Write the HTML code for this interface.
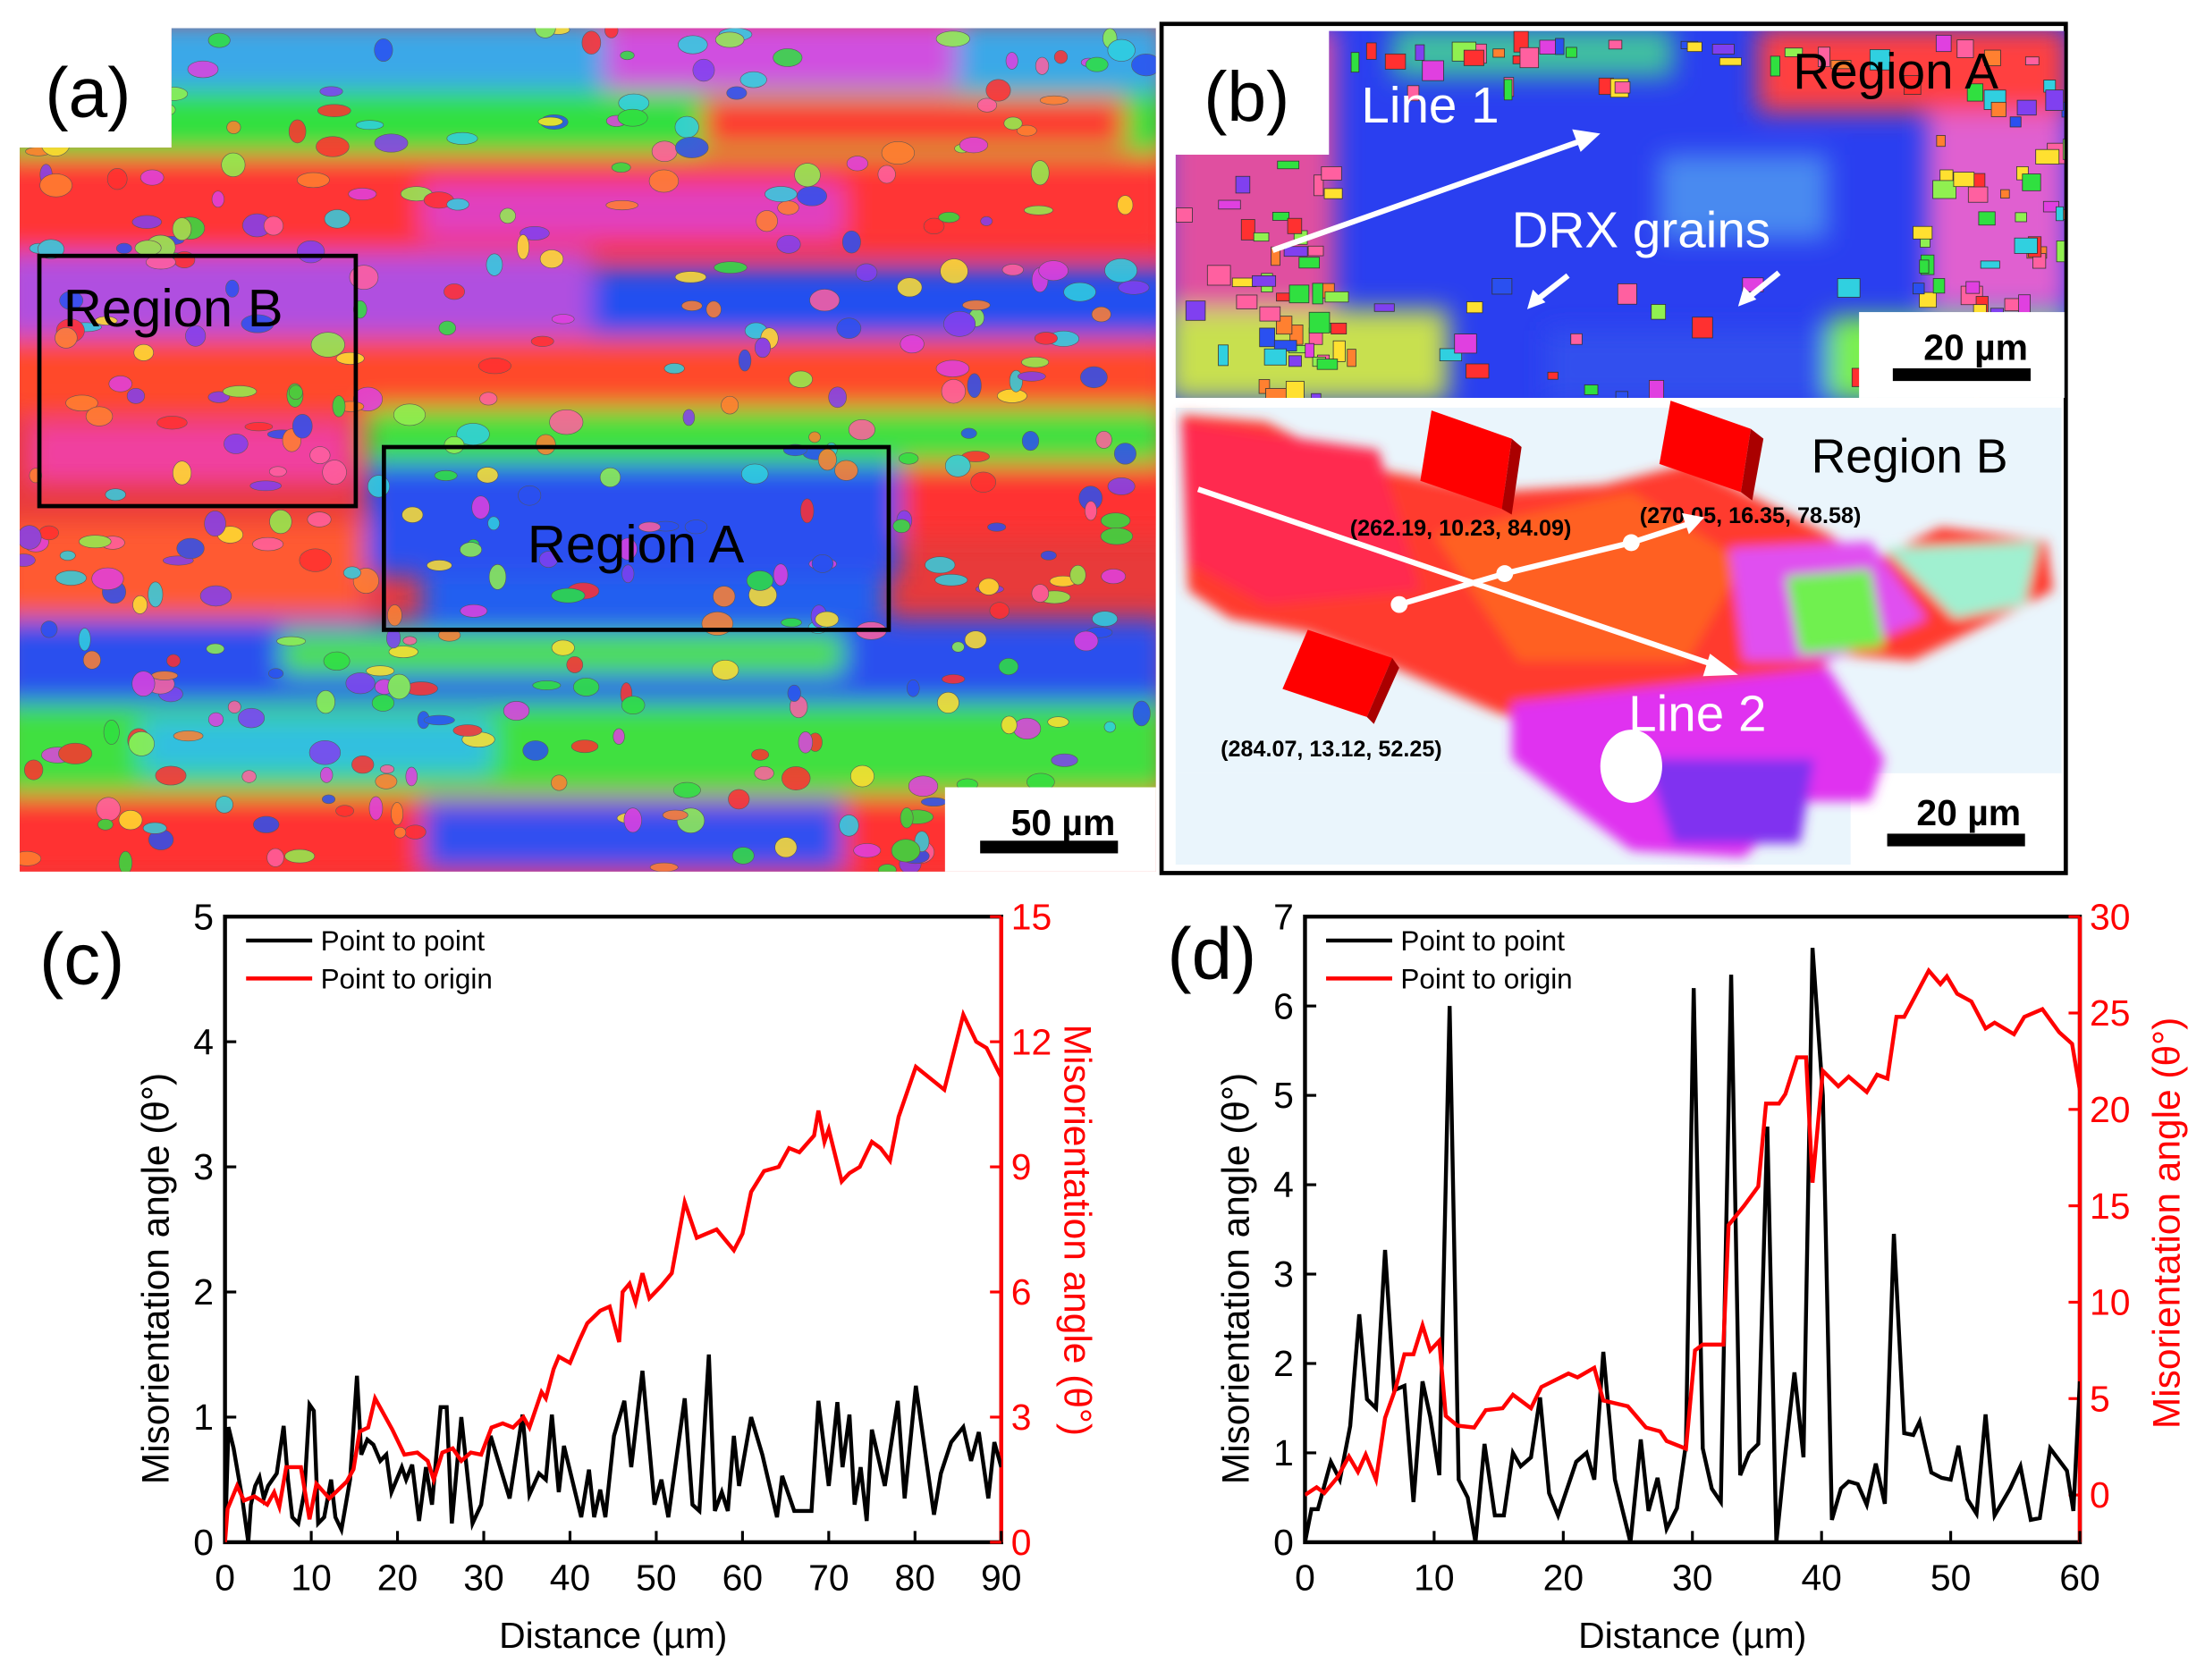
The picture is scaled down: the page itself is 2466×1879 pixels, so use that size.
<!DOCTYPE html>
<html><head><meta charset="utf-8"><style>
html,body{margin:0;padding:0;background:#fff}
svg{display:block}
text{font-family:"Liberation Sans",Arial,sans-serif}
</style></head><body>
<svg id="fig" width="2466" height="1879" viewBox="0 0 1568 1195" preserveAspectRatio="none" xmlns="http://www.w3.org/2000/svg">
<defs>
<filter id="bl" x="-10%" y="-10%" width="120%" height="120%"><feGaussianBlur stdDeviation="9"/></filter>
<filter id="bl2"><feGaussianBlur stdDeviation="4"/></filter>
<clipPath id="clipA"><path d="M122,20H822V620H14V105H122Z"/></clipPath>
<clipPath id="clipB1"><path d="M945,22H1468V283H836V110H945Z"/></clipPath>
<clipPath id="clipC"><rect x="160" y="652" width="552" height="445"/></clipPath>
<clipPath id="clipD"><rect x="928" y="652" width="551" height="445"/></clipPath>
</defs>

<!-- Panel (a) -->
<g clip-path="url(#clipA)">
<rect x="0" y="0" width="830" height="630" fill="#e83a3a"/>
<g filter="url(#bl)">
<rect x="0" y="15" width="830" height="55" fill="#3aa8e8"/>
<rect x="430" y="15" width="250" height="50" fill="#d050e0"/>
<rect x="0" y="65" width="830" height="45" fill="#30e040"/>
<rect x="500" y="70" width="300" height="35" fill="#ff3030"/>
<rect x="0" y="110" width="830" height="70" fill="#ff3535"/>
<rect x="300" y="130" width="300" height="40" fill="#e040c0"/>
<rect x="0" y="180" width="420" height="60" fill="#b050e0"/>
<rect x="420" y="190" width="420" height="50" fill="#2050f0"/>
<rect x="0" y="240" width="830" height="55" fill="#ff4a2a"/>
<rect x="20" y="300" width="230" height="45" fill="#f040a0"/>
<rect x="260" y="290" width="570" height="40" fill="#40e040"/>
<rect x="260" y="330" width="380" height="80" fill="#2a4ff0"/>
<rect x="640" y="330" width="200" height="50" fill="#ff3030"/>
<rect x="0" y="370" width="260" height="70" fill="#ff5a30"/>
<rect x="300" y="410" width="330" height="35" fill="#2060f0"/>
<rect x="0" y="440" width="830" height="60" fill="#2a50ee"/>
<rect x="200" y="450" width="400" height="30" fill="#50e050"/>
<rect x="0" y="500" width="830" height="65" fill="#40e040"/>
<rect x="100" y="510" width="250" height="40" fill="#30c0e0"/>
<rect x="0" y="565" width="830" height="60" fill="#ff3030"/>
<rect x="300" y="570" width="300" height="50" fill="#3050f0"/>
</g>
<g id="grainsA" opacity="0.85"></g>
</g>
<rect x="28" y="182" width="225" height="178" fill="none" stroke="#000" stroke-width="3"/>
<rect x="273" y="318" width="359" height="130" fill="none" stroke="#000" stroke-width="3"/>
<text x="45" y="232" font-size="38" fill="#000">Region B</text>
<text x="375" y="400" font-size="38" fill="#000">Region A</text>
<rect x="672" y="560" width="150" height="60" fill="#fff"/>
<text x="756" y="594" font-size="26" font-weight="bold" text-anchor="middle">50 µm</text>
<rect x="697" y="598" width="98" height="9" fill="#000"/>
<text x="32" y="83" font-size="50">(a)</text>

<!-- Panel (b) -->
<rect x="826" y="17" width="643" height="604" fill="#fff" stroke="#000" stroke-width="3"/>
<g clip-path="url(#clipB1)">
<rect x="830" y="18" width="640" height="270" fill="#2a3ff0"/>
<g filter="url(#bl)">
<rect x="830" y="20" width="120" height="200" fill="#e050a0"/>
<rect x="1250" y="20" width="220" height="60" fill="#ff4040"/>
<rect x="1370" y="80" width="100" height="140" fill="#e060d0"/>
<rect x="830" y="220" width="200" height="65" fill="#c8e050"/>
<rect x="1100" y="235" width="220" height="50" fill="#3050ee"/>
<rect x="1300" y="225" width="170" height="60" fill="#7af050"/>
<rect x="1180" y="110" width="120" height="60" fill="#4a8af0"/>
<rect x="990" y="20" width="200" height="35" fill="#40c0a0"/>
</g>
<g id="grainsB"></g>
</g>
<rect x="836" y="22" width="109" height="88" fill="#fff"/>
<text x="856" y="86" font-size="50">(b)</text>
<text x="968" y="87" font-size="36" fill="#fff">Line 1</text>
<text x="1275" y="63" font-size="36" fill="#000">Region A</text>
<text x="1075" y="176" font-size="36" fill="#fff">DRX grains</text>
<line x1="905" y1="178" x2="1125" y2="100" stroke="#fff" stroke-width="4"/>
<path d="M1138,95 L1118,92 L1124,108Z" fill="#fff"/>
<line x1="1115" y1="196" x2="1092" y2="214" stroke="#fff" stroke-width="4"/>
<path d="M1086,220 L1090,206 L1099,215Z" fill="#fff"/>
<line x1="1265" y1="194" x2="1243" y2="212" stroke="#fff" stroke-width="4"/>
<path d="M1236,218 L1240,204 L1249,213Z" fill="#fff"/>
<rect x="1322" y="222" width="146" height="61" fill="#fff"/>
<text x="1405" y="256" font-size="26" font-weight="bold" text-anchor="middle">20 µm</text>
<rect x="1346" y="262" width="98" height="9" fill="#000"/>

<g>
<rect x="836" y="290" width="630" height="260" fill="#eaf5fc"/>
<rect x="836" y="550" width="480" height="65" fill="#eaf5fc"/>
<g filter="url(#bl2)">
<path d="M840,295 L900,300 L960,330 L1060,350 L1140,345 L1200,330 L1300,380 L1330,400 L1380,375 L1455,385 L1460,420 L1420,440 L1360,470 L1300,465 L1290,500 L1240,520 L1180,530 L1100,520 L1060,505 L980,470 L930,450 L875,440 L845,420Z" fill="#ff3a2e"/>
<path d="M840,300 L980,320 L1010,420 L900,430 L845,400Z" fill="#ff2a50"/>
<path d="M1020,380 L1160,350 L1240,400 L1200,470 L1080,470Z" fill="#ff6020"/>
<path d="M1230,390 L1330,385 L1370,440 L1300,470 L1240,470Z" fill="#e050f0"/>
<path d="M1270,410 L1330,405 L1340,460 L1280,465Z" fill="#70f050"/>
<path d="M1340,390 L1450,385 L1440,430 L1390,440Z" fill="#a0f0d0"/>
<path d="M1075,500 L1300,475 L1340,540 L1330,570 L1280,570 L1240,610 L1160,605 L1120,575 L1075,540Z" fill="#e030f0"/>
<path d="M1170,540 L1290,540 L1280,600 L1190,600Z" fill="#8030f0"/>
</g>
<ellipse cx="1160" cy="545" rx="22" ry="26" fill="#fff"/>
</g>
<text x="1288" y="336" font-size="34" fill="#000">Region B</text>
<g><path d="M1018,292 L1075,312 L1068,362 L1010,342Z" fill="#f00"/><path d="M1075,312 L1082,318 L1075,366 L1068,362Z" fill="#a00"/></g>
<g><path d="M1188,285 L1245,305 L1238,350 L1180,330Z" fill="#f00"/><path d="M1245,305 L1254,312 L1246,356 L1238,350Z" fill="#a00"/></g>
<g><path d="M930,448 L990,468 L972,510 L912,490Z" fill="#f00"/><path d="M990,468 L995,475 L977,515 L972,510Z" fill="#a00"/></g>
<text x="960" y="381" font-size="16" font-weight="bold">(262.19, 10.23, 84.09)</text>
<text x="1166" y="372" font-size="16" font-weight="bold">(270.05, 16.35, 78.58)</text>
<text x="868" y="538" font-size="16" font-weight="bold">(284.07, 13.12, 52.25)</text>
<line x1="852" y1="348" x2="1222" y2="474" stroke="#fff" stroke-width="4"/>
<path d="M1236,480 L1216,465 L1211,481Z" fill="#fff"/>
<polyline points="995,430 1070,408 1160,386 1200,373" fill="none" stroke="#fff" stroke-width="4"/>
<path d="M1212,368 L1196,365 L1201,380Z" fill="#fff"/>
<circle cx="995" cy="430" r="6" fill="#fff"/><circle cx="1070" cy="408" r="6" fill="#fff"/><circle cx="1160" cy="386" r="6" fill="#fff"/>
<text x="1158" y="520" font-size="36" fill="#fff">Line 2</text>
<text x="1400" y="587" font-size="26" font-weight="bold" text-anchor="middle">20 µm</text>
<rect x="1342" y="593" width="98" height="9" fill="#000"/>

<!-- Charts -->
<g id="chartC"></g>
<g id="chartD"></g>
<text x="28" y="700" font-size="52">(c)</text>
<text x="830" y="696" font-size="52">(d)</text>
</svg>
<script>
// ---- Chart (c) data ----
const cBlackX=[0,0.4,1,2,2.7,3,3.5,4,4.5,5,5.5,6,6.8,7.3,7.8,8.5,9.2,9.8,10.3,10.8,11.5,12.3,12.8,13.5,14.5,15.3,15.8,16.5,17.2,18,18.7,19.3,20.5,21,21.7,22.5,23.3,24,25,25.7,26.3,27.4,28.7,29.7,30.8,33,34.5,35.3,36.4,37.2,37.9,38.7,39.3,41.3,42.2,42.8,43.5,44.1,45.1,46.3,47.1,48.4,49.8,50.6,51.4,53.3,54.2,55,56.1,56.8,57.6,58.3,59,59.6,61,62.3,64,64.6,66,68,68.8,70,71,71.6,72.4,73,73.7,74.4,75,76.5,78,78.8,80.1,82.2,83,84.2,85.6,86.5,87.4,88.5,89.2,90];
const cBlackY=[0,0.92,0.75,0.35,0,0.3,0.45,0.52,0.35,0.45,0.5,0.55,0.93,0.5,0.2,0.15,0.4,1.1,1.05,0.15,0.2,0.5,0.2,0.1,0.5,1.33,0.7,0.82,0.78,0.65,0.7,0.4,0.6,0.5,0.62,0.17,0.6,0.3,1.08,1.08,0.15,1.0,0.15,0.3,0.85,0.35,1.02,0.38,0.55,0.5,1.02,0.4,0.77,0.2,0.58,0.2,0.42,0.2,0.85,1.13,0.6,1.37,0.3,0.5,0.2,1.15,0.3,0.25,1.5,0.25,0.4,0.25,0.85,0.45,1.0,0.7,0.2,0.53,0.25,0.25,1.13,0.45,1.12,0.6,1.02,0.3,0.6,0.17,0.9,0.45,1.13,0.35,1.25,0.22,0.55,0.8,0.92,0.65,0.88,0.35,0.8,0.6];
const cRedX=[0,0.3,1.4,2.2,3.4,4.9,5.7,6.3,7.1,8.8,9.8,10.6,12.1,14.1,14.9,15.6,16.6,17.4,19.4,20.8,22.3,23.5,24.2,25.2,26.4,27.4,28.5,29.7,30.9,32.2,33.4,34.6,35.3,36.7,37.2,38.1,38.7,40,41,42,43.5,44.6,45.7,46.1,46.9,47.6,48.4,49.2,50.6,51.8,53.3,54.7,57,59,60,61,62.5,64.2,65.4,66.6,68.3,68.8,69.5,70,71.5,72.4,73.6,75,76,77.1,78.1,80.1,83.4,85.6,87.1,88.3,90];
const cRedY=[0,0.8,1.35,1.0,1.1,0.9,1.2,0.85,1.8,1.8,0.55,1.4,1.05,1.45,1.75,2.65,2.75,3.45,2.7,2.1,2.15,1.95,1.5,2.15,2.25,1.95,2.15,2.1,2.75,2.85,2.75,3.0,2.75,3.6,3.45,4.15,4.45,4.3,4.8,5.25,5.55,5.65,4.8,6.0,6.2,5.75,6.45,5.85,6.15,6.45,8.15,7.3,7.5,7.0,7.4,8.4,8.9,9.0,9.45,9.35,9.75,10.35,9.6,9.9,8.65,8.85,9.0,9.6,9.45,9.15,10.2,11.4,10.85,12.65,12.0,11.85,11.15];
const cXTicks=[0,10,20,30,40,50,60,70,80,90];
const cYTicks=[0,1,2,3,4,5];
const cY2Ticks=[0,3,6,9,12,15];
// ---- Chart (d) data ----
const dBlackX=[0,0.5,1,2,2.7,3.5,4.2,4.8,5.5,6.2,6.9,7.7,8.4,9.1,9.7,10.4,11.2,11.9,12.6,13.2,13.9,14.7,15.4,16.1,16.7,17.5,18.2,18.9,19.6,21,21.8,22.4,23.1,24,25.2,26,26.6,27.3,28,28.8,29.5,30.1,30.8,31.5,32.2,33,33.7,34.4,35.1,35.8,36.5,37.2,37.9,38.6,39.3,40.1,40.8,41.5,42.1,42.8,43.5,44.2,44.9,45.6,46.4,47.1,47.6,48.5,49.3,50,50.6,51.3,52,52.7,53.4,54.6,55.4,56.2,56.9,57.7,59,59.5,60];
const dBlackY=[0,0.37,0.37,0.9,0.7,1.3,2.55,1.6,1.5,3.27,1.7,1.75,0.45,1.8,1.4,0.75,6.0,0.7,0.5,0,1.1,0.3,0.3,1.0,0.85,0.95,1.62,0.55,0.3,0.9,1.0,0.7,2.13,0.7,0,1.15,0.35,0.72,0.15,0.38,1.1,6.2,1.05,0.6,0.45,6.35,0.75,1.0,1.1,4.65,0,1.0,1.9,0.95,6.65,5.0,0.25,0.6,0.68,0.65,0.42,0.88,0.43,3.45,1.22,1.2,1.35,0.78,0.72,0.7,1.08,0.48,0.32,1.43,0.3,0.6,0.85,0.25,0.27,1.05,0.8,0.35,1.8];
const dRedX=[0,0.9,1.5,2.5,3.4,4.1,4.7,5.5,6.2,7,7.7,8.4,9.1,9.7,10.4,10.9,11.8,13.1,14,15.3,16.1,17.5,18.3,20.4,21.1,22.4,23.1,25,26.4,27.5,28,29.5,30.2,30.8,32.4,32.8,34,35.1,35.7,36.7,37.2,38.1,38.8,39.3,40.1,41.3,42.1,43.5,44.3,45.1,45.8,46.4,48.3,49.2,49.7,50.5,51.6,52.7,53.4,54.9,55.7,57.1,58.4,59.4,60];
const dRedY=[0,0.4,0.1,0.9,2.0,1.2,2.1,0.8,4.0,5.5,7.3,7.3,8.8,7.5,8.0,4.1,3.6,3.5,4.4,4.5,5.2,4.5,5.6,6.3,6.1,6.6,4.9,4.6,3.5,3.3,2.8,2.4,7.5,7.8,7.8,14.0,15.0,16.0,20.3,20.3,20.8,22.7,22.7,16.2,22.0,21.2,21.7,20.9,21.8,21.6,24.8,24.8,27.2,26.5,26.9,26.0,25.6,24.2,24.5,23.9,24.8,25.2,24.0,23.4,21.0];
const dXTicks=[0,10,20,30,40,50,60];
const dYTicks=[0,1,2,3,4,5,6,7];
const dY2Ticks=[0,5,10,15,20,25,30];

const NS='http://www.w3.org/2000/svg';
function mk(tag,attrs,parent){const e=document.createElementNS(NS,tag);for(const k in attrs)e.setAttribute(k,attrs[k]);parent.appendChild(e);return e;}

function drawChart(g,cfg){
  const {x0,x1,y0,y1,xmax,ymax,y2min,y2max,clip}=cfg;
  const sx=v=>x0+(v/xmax)*(x1-x0);
  const sy=v=>y1-(v/ymax)*(y1-y0);
  const sy2=v=>y1-((v-y2min)/(y2max-y2min))*(y1-y0);
  const fr=mk('rect',{x:x0,y:y0,width:x1-x0,height:y1-y0,fill:'none',stroke:'#000','stroke-width':2.8},g);
  
  
  const ra=mk('line',{x1:x1,y1:y0,x2:x1,y2:y1,stroke:'#f00','stroke-width':2.8},g);
  
  
  cfg.xt.forEach(t=>{
    mk('line',{x1:sx(t),y1:y1,x2:sx(t),y2:y1-8,stroke:'#000','stroke-width':2},g);
    const tx=mk('text',{x:sx(t),y:y1+34,'font-size':26,'text-anchor':'middle'},g);tx.textContent=t;
    
    
  });
  cfg.yt.forEach(t=>{
    mk('line',{x1:x0,y1:sy(t),x2:x0+8,y2:sy(t),stroke:'#000','stroke-width':2},g);
    const tx=mk('text',{x:x0-8,y:sy(t)+9,'font-size':26,'text-anchor':'end'},g);tx.textContent=t;
    
    
  });
  cfg.y2t.forEach(t=>{
    mk('line',{x1:x1,y1:sy2(t),x2:x1-8,y2:sy2(t),stroke:'#f00','stroke-width':2},g);
    const tx=mk('text',{x:x1+7,y:sy2(t)+9,'font-size':26,fill:'#f00'},g);tx.textContent=t;
    
    
  });
  const pb=mk('polyline',{points:cfg.bx.map((v,i)=>sx(v)+','+sy(cfg.by[i])).join(' '),fill:'none',stroke:'#000','stroke-width':2.8,'clip-path':clip},g);
  
  
  const pr=mk('polyline',{points:cfg.rx.map((v,i)=>sx(v)+','+sy2(cfg.ry[i])).join(' '),fill:'none',stroke:'#f00','stroke-width':2.8,'clip-path':clip},g);
  
  
  const lx=x0+15;
  const l1=mk('line',{x1:lx,y1:y0+17,x2:lx+47,y2:y0+17,stroke:'#000','stroke-width':2.8},g);
  
  
  const t1=mk('text',{x:lx+53,y:y0+24,'font-size':20},g);t1.textContent='Point to point';
  
  
  const l2=mk('line',{x1:lx,y1:y0+44,x2:lx+47,y2:y0+44,stroke:'#f00','stroke-width':2.8},g);
  
  
  const t2=mk('text',{x:lx+53,y:y0+51,'font-size':20},g);t2.textContent='Point to origin';
  
  
  const xt=mk('text',{x:(x0+x1)/2,y:y1+75,'font-size':26,'text-anchor':'middle'},g);xt.textContent='Distance (µm)';
  
  
  const cy=(y0+y1)/2+35;
  const yt=mk('text',{x:0,y:0,'font-size':27,'text-anchor':'middle',transform:`translate(${cfg.ytx},${cy}) rotate(-90)`},g);yt.textContent='Misorientation angle (θ°)';
  
  
  const y2=mk('text',{x:0,y:0,'font-size':27,fill:'#f00','text-anchor':'middle',transform:`translate(${cfg.y2tx},${cfg.y2cy}) rotate(${cfg.y2rot})`},g);y2.textContent='Misorientation angle (θ°)';
  
  
}
drawChart(document.getElementById('chartC'),{x0:160,x1:712,y0:652,y1:1097,xmax:90,ymax:5,y2min:0,y2max:15,clip:'url(#clipC)',
  xt:cXTicks,yt:cYTicks,y2t:cY2Ticks,bx:cBlackX,by:cBlackY,rx:cRedX,ry:cRedY,ytx:120,y2tx:757,y2cy:875,y2rot:90});
drawChart(document.getElementById('chartD'),{x0:928,x1:1479,y0:652,y1:1097,xmax:60,ymax:7,y2min:-2.45,y2max:30,clip:'url(#clipD)',
  xt:dXTicks,yt:dYTicks,y2t:dY2Ticks,bx:dBlackX,by:dBlackY,rx:dRedX,ry:dRedY,ytx:888,y2tx:1550,y2cy:870,y2rot:-90});

// decorative grains for EBSD maps
(function(){
  let s=12345;const r=()=>{s=(s*1103515245+12345)%2147483648;return s/2147483648;};
  const cols=['#ff3030','#30e040','#2a50f0','#e040e0','#30d0e0','#ffe030','#ff8030','#90f050','#8040f0','#ff60a0'];
  const gA=document.getElementById('grainsA');
  for(let i=0;i<420;i++){
    const y=20+r()*600;const x=14+r()*808;
    mk('ellipse',{cx:x,cy:y,rx:4+r()*8,ry:3+r()*6,fill:cols[Math.floor(r()*cols.length)],stroke:'#555','stroke-width':0.4},gA);
  }
  const gB=document.getElementById('grainsB');
  for(let i=0;i<160;i++){
    const edge=r();let x,y;
    if(edge<0.3){x=836+r()*110;y=110+r()*170;}else if(edge<0.55){x=945+r()*520;y=22+r()*40;}else if(edge<0.75){x=1360+r()*108;y=60+r()*160;}else{x=840+r()*620;y=195+r()*85;}
    mk('rect',{x:x,y:y,width:5+r()*12,height:5+r()*10,fill:cols[Math.floor(r()*cols.length)],stroke:'#333','stroke-width':0.5},gB);
  }
})();
</script>
</body></html>
